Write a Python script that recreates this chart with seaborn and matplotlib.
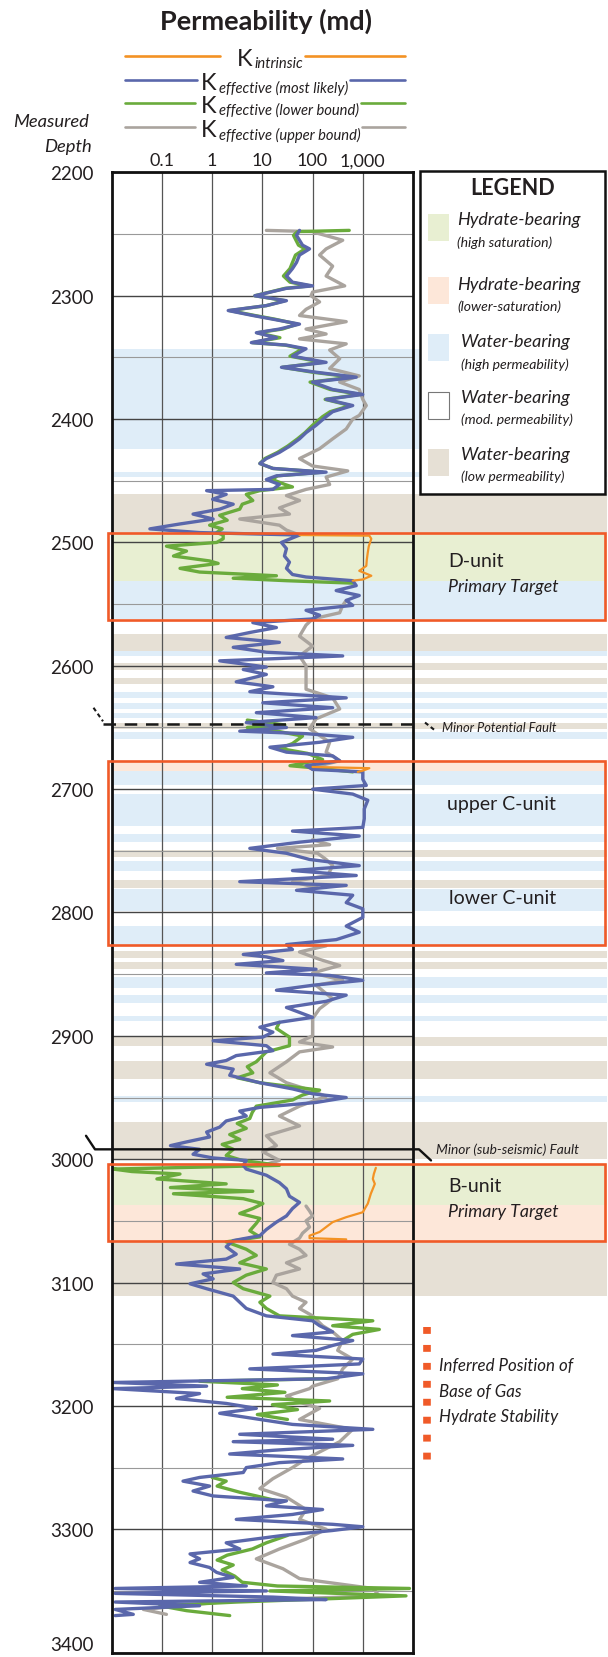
import numpy as np
import pandas as pd
import matplotlib
matplotlib.use('Agg')
import matplotlib.pyplot as plt
from matplotlib.patches import Rectangle
from matplotlib.ticker import FixedLocator, NullLocator
import seaborn as sns

# ---------------- data (depth in m, permeability as log10 md) ----------------
# K effective (most likely)
blue_depth = [2247, 2251, 2259, 2262, 2267, 2273, 2278, 2284, 2289, 2292, 2294, 2300, 2304, 2308, 2312,
              2316, 2319, 2323, 2327, 2330, 2334, 2338, 2340, 2343, 2349, 2354, 2358, 2362, 2366, 2370,
              2376, 2380, 2384, 2389, 2394, 2398, 2405, 2411, 2416, 2422, 2427, 2432, 2436, 2440, 2443,
              2446, 2449, 2453, 2457, 2458, 2461, 2465, 2469, 2473, 2477, 2481, 2485, 2489, 2492, 2494,
              2500, 2505, 2511, 2516, 2521, 2526, 2528, 2531, 2535, 2539, 2543, 2547, 2551, 2555, 2559,
              2562, 2565, 2569, 2573, 2577, 2581, 2585, 2589, 2592, 2596, 2601, 2603, 2607, 2613, 2617,
              2621, 2626, 2630, 2634, 2638, 2642, 2646, 2650, 2653, 2655, 2658, 2662, 2666, 2670, 2673,
              2677, 2681, 2684, 2686, 2692, 2697, 2700, 2704, 2709, 2716, 2724, 2731, 2734, 2738, 2743,
              2748, 2752, 2757, 2762, 2766, 2770, 2775, 2778, 2782, 2786, 2792, 2797, 2804, 2811, 2816,
              2822, 2826, 2830, 2834, 2836, 2839, 2842, 2846, 2849, 2851, 2855, 2859, 2863, 2867, 2872,
              2877, 2881, 2885, 2889, 2893, 2897, 2901, 2904, 2908, 2912, 2916, 2920, 2923, 2927, 2932,
              2938, 2943, 2947, 2950, 2954, 2958, 2961, 2965, 2969, 2974, 2978, 2982, 2986, 2989, 2992,
              2996, 2999, 3001, 3005, 3008, 3013, 3019, 3024, 3030, 3035, 3040, 3046, 3051, 3057, 3062,
              3066, 3071, 3077, 3081, 3085, 3089, 3093, 3097, 3101, 3105, 3111, 3116, 3121, 3127, 3131,
              3135, 3140, 3143, 3147, 3151, 3155, 3158, 3162, 3166, 3170, 3174, 3178, 3181, 3184, 3186,
              3190, 3194, 3198, 3202, 3206, 3211, 3215, 3219, 3223, 3227, 3229, 3232, 3236, 3239, 3243,
              3246, 3250, 3254, 3258, 3261, 3265, 3269, 3273, 3277, 3281, 3284, 3288, 3292, 3296, 3298,
              3301, 3305, 3311, 3316, 3320, 3324, 3327, 3331, 3335, 3339, 3343, 3346, 3348, 3350, 3352,
              3355, 3357, 3359, 3362, 3365, 3369, 3370]
blue_logk = [1.74, 1.68, 1.80, 1.94, 1.74, 1.68, 1.60, 1.48, 1.60, 2.00, 1.48, 0.85, 1.48, 1.08, 0.32,
             0.81, 1.21, 1.74, 1.34, 0.88, 1.28, 0.78, 1.48, 1.87, 1.60, 2.27, 1.38, 2.07, 2.87, 2.00,
             2.40, 3.00, 2.27, 2.80, 2.40, 2.27, 2.07, 1.87, 1.74, 1.54, 1.34, 1.08, 0.95, 1.21, 2.27,
             1.28, 1.08, 1.34, 1.21, -0.11, 0.28, 0.01, 0.42, 0.15, -0.38, 0.02, -0.64, -1.24, -0.25, 1.74,
             1.38, 1.48, 1.44, 1.54, 1.48, 1.60, 1.87, 2.80, 2.87, 2.47, 2.93, 2.67, 2.80, 1.87, 2.14,
             2.00, 0.81, 1.28, 0.75, 0.28, 1.34, 0.42, 1.08, 2.60, 0.15, 1.08, 0.62, 1.08, 0.48, 1.21,
             0.75, 2.67, 1.01, 2.40, 0.88, 2.07, 0.68, 1.48, 0.55, 1.87, 2.80, 2.14, 1.15, 1.48, 2.40,
             2.54, 1.87, 2.00, 3.00, 3.00, 3.07, 2.00, 2.80, 3.10, 3.03, 3.03, 3.00, 1.60, 2.93, 1.74,
             0.75, 1.48, 1.94, 2.93, 1.60, 2.87, 0.55, 2.67, 1.68, 2.80, 2.67, 3.00, 3.00, 2.67, 2.93,
             2.47, 1.48, 1.60, 0.62, 1.08, 1.41, 0.48, 2.07, 1.08, 2.34, 3.00, 2.00, 1.28, 2.67, 2.27,
             1.48, 1.74, 2.00, 1.34, 0.95, 1.21, 1.01, 0.02, 1.08, 1.21, 0.48, 0.28, -0.11, 0.42, 0.35,
             0.95, 1.60, 2.00, 2.67, 2.07, 0.95, 0.55, 0.68, 0.28, 0.15, -0.11, -0.05, -0.51, -0.83, -0.25,
             -0.38, 0.02, 0.68, 0.62, 0.68, 1.08, 1.34, 1.48, 1.54, 1.74, 1.60, 1.48, 1.28, 1.08, 0.95,
             0.42, 0.28, 0.48, 0.28, -0.71, 0.55, -0.18, 0.02, -0.44, -0.11, 0.42, 0.55, 0.68, 1.08, 2.00,
             2.14, 2.40, 1.60, 2.80, 2.40, 2.07, 1.21, 3.00, 2.93, 0.75, 3.00, 2.27, -1.97, -0.11, -1.97,
             -0.25, -0.71, 0.28, 0.88, 0.15, 0.95, 1.60, 3.20, 0.55, 2.40, 0.42, 2.80, 1.21, 0.35, 2.60,
             1.34, 0.68, 0.62, -0.25, -0.58, -0.05, -0.38, 0.02, 1.48, 1.08, 2.20, 1.60, 0.48, 2.40, 3.00,
             2.40, 1.41, 0.28, 0.55, -0.44, -0.25, -0.44, -0.05, 0.09, 0.42, -0.25, 0.68, -1.93, 1.08, -1.93,
             1.21, 2.27, -1.93, -0.25, -1.93, -1.57, -1.93]

# K effective (lower bound); None = hidden under the blue curve
green_depth = [2247, 2248, 2251, 2259, 2262, 2267, 2273, 2278, 2284, 2289, 2292, 2294, 2300, 2304, 2308,
               2312, 2316, 2319, 2323, 2327, 2330, 2334, 2338, 2340, 2343, 2349, 2354, 2358, 2362, 2366,
               2370, 2376, 2380, 2384, 2389, 2394, 2398, 2405, 2411, 2416, 2422, 2427, 2432, 2436, 2440,
               2443, 2446, 2449, 2453, 2455, 2458, 2461, 2466, 2469, 2473, 2478, 2482, 2486, 2489, 2492,
               2494, 2497, 2500, 2503, 2507, 2511, 2515, 2517, 2521, 2524, 2527, 2529, 2531, 2533, None,
               2644, 2648, 2650, 2653, 2657, 2663, 2667, 2671, 2676, 2681, 2683, 2686, None,
               2889, 2894, 2901, 2908, 2913, 2921, 2925, 2930, 2934, 2938, 2944, 2948, 2952, 2957, 2962,
               2967, 2971, 2975, 2980, 2984, 2988, 2992, 2997, 3001, 3005, 3008, 3010, 3012, 3016, 3020,
               3023, 3026, 3028, 3032, 3036, 3040, 3044, 3048, 3052, 3058, 3063, 3067, 3073, 3078, 3084,
               3089, 3094, 3100, 3105, 3111, 3116, 3121, 3127, 3131, 3135, 3138, 3142, 3147, None,
               3178, 3180, 3183, 3186, 3189, 3193, 3196, 3199, 3203, 3207, 3211, None,
               3258, 3261, 3265, 3270, 3273, 3277, None,
               3305, 3311, 3316, 3321, 3325, 3329, 3333, 3338, 3343, 3346, 3348, 3350, 3354, 3356, 3359,
               3362, 3366, 3370]
green_logk = [2.73, 1.70, 1.62, 1.72, 1.85, 1.66, 1.60, 1.55, 1.42, 1.55, 1.95, 1.45, 0.85, 1.45, 1.08,
              0.35, 0.85, 1.25, 1.70, 1.40, 0.90, 1.35, 0.80, 1.45, 1.80, 1.55, 2.20, 1.40, 2.00, 2.80,
              1.95, 2.35, 2.95, 2.25, 2.75, 2.35, 2.20, 2.00, 1.85, 1.70, 1.50, 1.30, 1.05, 0.95, 1.21,
              2.20, 1.30, 1.20, 1.45, 1.60, 0.95, 0.68, 0.81, 0.60, 0.55, 0.15, 0.30, -0.05, 0.20, 0.09,
              0.22, 0.22, 0.09, -0.91, -0.51, -0.77, -0.05, 0.12, -0.64, -0.25, 1.28, 0.42, 1.48, 2.80, None,
              0.70, 1.45, 0.70, 1.30, 1.80, 1.60, 1.35, 1.90, 2.20, 1.55, 2.10, 2.80, None,
              1.34, 1.28, 1.54, 1.54, 1.08, 0.88, 0.70, 0.81, 0.50, 0.95, 2.14, 1.80, 1.60, 0.88, 0.80,
              0.75, 0.50, 0.68, 0.35, 0.55, 0.20, 0.42, 0.28, 0.60, 1.34, -1.97, -1.60, -0.64, -1.10, 0.28,
              -0.83, 0.81, -0.77, 0.62, 1.01, 0.81, 0.55, 0.95, 0.88, 0.75, 0.95, 0.28, 0.68, 0.88, 0.55,
              1.08, 0.68, 0.42, 0.62, 1.15, 0.95, 1.08, 1.34, 3.20, 2.40, 3.33, 2.80, 2.60, None,
              2.27, -0.25, 1.30, 0.60, 1.45, 0.30, 2.34, 1.20, 1.70, 0.90, 1.50, None,
              0.00, 0.28, 0.10, 0.55, 0.88, 1.30, None,
              1.50, 1.08, 0.80, 0.30, 0.10, 0.42, 0.20, 0.45, 0.60, 1.30, 3.93, 1.15, 3.86, 2.54, 0.50,
              -1.04, -0.51, 0.35]

# K effective (upper bound)
gray_depth = [2247, 2248, 2249, 2255, 2262, 2267, 2276, 2284, 2292, 2297, 2300, 2305, 2311, 2316, 2321,
              2327, 2331, 2335, 2339, 2344, 2351, 2359, 2365, 2370, 2376, 2384, 2389, 2397, 2400, 2408,
              2416, 2424, 2432, 2438, 2442, 2447, 2453, 2457, 2462, 2466, 2472, 2477, 2481, 2486, 2490,
              2494, None,
              2547, 2551, 2557, 2562, 2567, 2576, 2584, 2592, 2600, 2611, 2619, 2626, 2635, 2643, 2651,
              2662, 2670, 2677, 2681, 2684, None,
              2741, 2745, 2748, 2752, 2757, 2762, 2770, 2775, 2780, None,
              2826, 2827, 2832, 2838, 2843, 2849, 2855, 2859, 2870, 2878, 2886, 2894, 2900, 2905, 2909,
              2913, 2921, 2930, 2938, 2943, 2949, 2957, 2965, 2973, 2981, 2989, 2994, 3001, 3005, None,
              3038, 3042, 3046, 3050, 3055, 3060, 3064, 3069, 3073, 3078, 3084, 3089, 3094, 3100, 3105,
              3111, 3116, 3121, 3127, 3131, 3135, 3140, 3147, 3155, 3162, 3170, 3178, 3184, 3186, 3192,
              3197, 3202, 3211, 3219, 3229, 3243, 3250, 3259, 3267, 3274, 3284, 3292, 3300, 3308, 3316,
              3324, 3332, 3340, 3348, 3354, 3358, 3365, 3369]
gray_logk = [1.08, 2.00, 2.07, 2.60, 2.27, 2.14, 2.40, 2.27, 2.64, 2.00, 1.97, 2.14, 1.87, 1.74, 2.67,
             1.87, 2.27, 1.74, 2.67, 2.34, 2.54, 2.34, 2.93, 2.54, 2.93, 3.00, 3.07, 2.93, 2.80, 2.67,
             2.40, 2.14, 1.74, 2.00, 2.70, 2.27, 2.34, 1.87, 1.48, 1.74, 1.34, 1.54, 0.55, 1.34, 1.48,
             1.74, None,
             2.67, 2.60, 2.54, 2.00, 1.87, 1.74, 2.00, 1.74, 1.87, 1.87, 1.87, 2.40, 2.54, 2.07, 1.94,
             2.34, 2.27, 2.54, 2.14, 2.00, None,
             2.00, 2.34, 1.30, 2.10, 2.27, 2.40, 2.30, 1.60, 2.10, None,
             1.90, 2.27, 1.74, 2.14, 2.54, 2.00, 2.60, 2.07, 2.40, 2.14, 2.00, 2.00, 2.00, 1.74, 2.40,
             1.74, 1.48, 1.15, 1.48, 1.87, 2.27, 1.74, 1.34, 1.74, 1.08, 1.28, 1.01, 1.34, 1.00, None,
             1.87, 1.94, 2.00, 1.87, 1.94, 1.80, 1.74, 1.54, 1.74, 1.87, 1.48, 1.74, 1.28, 1.21, 1.48,
             1.60, 1.87, 1.74, 2.00, 2.10, 2.20, 2.40, 2.60, 2.50, 2.80, 2.60, 2.50, 2.00, 1.94, 1.48,
             1.74, 2.14, 1.74, 2.80, 2.54, 1.87, 1.60, 1.21, 0.95, 1.48, 1.87, 1.74, 2.27, 1.87, 1.34,
             0.88, 1.41, 1.74, 3.20, 3.33, 0.42, -1.37, -0.91]

# K intrinsic (only inside hydrate-bearing intervals)
orange_depth = [2494, 2494.5, 2497, 2503, 2508, 2514, 2519, 2523, 2527, 2530, 2531, None,
                2682, 2683, 2685, 2686, None,
                3007, 3012, 3016, 3020, 3024, 3028, 3032, 3036, 3038, 3043, 3047, 3051, 3055, 3059,
                3062, 3064, 3065]
orange_logk = [1.74, 3.13, 3.17, 3.12, 3.10, 3.08, 3.07, 2.93, 3.17, 3.00, 2.80, None,
               2.00, 3.13, 3.00, 2.90, None,
               3.26, 3.22, 3.20, 3.24, 3.20, 3.16, 3.13, 3.10, 3.07, 3.00, 2.67, 2.40, 2.27, 2.14,
               1.94, 1.94, 2.67]

# lithology / fluid bands (top, bottom, kind)
band_top = [2343, 2443, 2461, 2492, 2531, 2574, 2588, 2598, 2610, 2621, 2630, 2638, 2646, 2654, 2678,
            2685, 2704, 2736, 2749, 2758, 2774, 2781, 2811, 2831, 2840, 2852, 2867, 2884, 2901, 2920,
            2949, 2970, 3004, 3037, 3066]
band_bottom = [2424, 2447, 2492, 2531, 2562, 2588, 2592, 2603, 2615, 2626, 2635, 2642, 2651, 2659, 2685,
               2697, 2730, 2743, 2755, 2766, 2780, 2799, 2826, 2837, 2846, 2861, 2873, 2888, 2908, 2935,
               2954, 3000, 3037, 3066, 3111]
band_kind = ['wh', 'wh', 'wl', 'hh', 'wh', 'wl', 'wh', 'wl', 'wl', 'wh', 'wh', 'wh', 'wl', 'wh', 'hl',
             'wh', 'wh', 'wh', 'wl', 'wh', 'wl', 'wh', 'wh', 'wl', 'wl', 'wh', 'wh', 'wh', 'wl', 'wl',
             'wh', 'wl', 'hh', 'hl', 'wl']

# target intervals (orange boxes)
box_top = [2492, 2677, 3004]
box_bottom = [2563, 2826, 3066]

depth_ticks = [2200, 2300, 2400, 2500, 2600, 2700, 2800, 2900, 3000, 3100, 3200, 3300, 3400]
perm_ticks = [0.1, 1, 10, 100, 1000]
perm_labels = ['0.1', '1', '10', '100', '1,000']

# ---------------- style ----------------
sns.set_theme(style='white')
plt.rcParams['font.family'] = ['Lato', 'DejaVu Sans']
TXT = '#231f20'
c_orange = '#f39224'
c_blue = '#5a67ab'
c_green = '#6aab3c'
c_gray = '#aaa49e'
c_box = '#f05a28'
band_colors = {'hh': '#e8efd2', 'hl': '#fde7d9', 'wh': '#dfedf8', 'wl': '#e6e0d5'}

W, H = 608, 1658
fig = plt.figure(figsize=(W / 100, H / 100), dpi=100)
ax_l, ax_r, ax_t, ax_b = 111.7, 413.0, 173.4, 1653.6
ax = fig.add_axes([ax_l / W, 1 - ax_b / H, (ax_r - ax_l) / W, (ax_b - ax_t) / H])
ax.set_facecolor('none')


def fx(px):
    # pixel x -> axes fraction
    return (px - ax_l) / (ax_r - ax_l)


ax.set_xscale('log')
ax.set_xlim(0.01, 10000)
ax.set_ylim(3400, 2200)

# bands (extend across to the right of the track)
for top, bot, kind in zip(band_top, band_bottom, band_kind):
    ax.axhspan(top, bot, xmin=0, xmax=1.645, color=band_colors[kind], lw=0, zorder=0.3, clip_on=False)


def draw_curve(depth, logk, color, lw, z):
    df = pd.DataFrame({'depth': depth, 'logk': logk}, dtype=float)
    df['seg'] = df['depth'].isna().cumsum()
    df = df.dropna()
    df['k'] = 10 ** df['logk']
    sns.lineplot(data=df, x='k', y='depth', units='seg', estimator=None, orient='y', sort=True,
                 color=color, lw=lw, ax=ax, zorder=z, legend=False)


draw_curve(gray_depth, gray_logk, c_gray, 2.4, 2.0)
draw_curve(green_depth, green_logk, c_green, 2.4, 2.1)
draw_curve(blue_depth, blue_logk, c_blue, 2.4, 2.2)
draw_curve(orange_depth, orange_logk, c_orange, 1.6, 2.3)

# axes, ticks, grid
ax.xaxis.tick_top()
ax.set_xticks(perm_ticks)
ax.set_xticklabels(perm_labels)
ax.xaxis.set_minor_locator(NullLocator())
ax.set_yticks(depth_ticks)
ax.yaxis.set_minor_locator(FixedLocator(np.arange(2250, 3400, 100)))
ax.tick_params(axis='x', which='both', length=0, pad=3, labelsize=13, labelcolor=TXT)
ax.tick_params(axis='y', which='both', length=0, pad=13, labelsize=13.5, labelcolor=TXT)
ax.yaxis.get_major_ticks()[-1].label1.set_va('bottom')
ax.grid(which='major', axis='x', color='#555555', lw=0.9)
ax.grid(which='major', axis='y', color='#444444', lw=1.0)
ax.grid(which='minor', axis='y', color='#999999', lw=0.8)
ax.set_xlabel('')
ax.set_ylabel('')
for s in ax.spines.values():
    s.set_color('#111111')
    s.set_linewidth(2.0)
    s.set_zorder(4)

ytr = ax.get_yaxis_transform()

# target boxes
for top, bot in zip(box_top, box_bottom):
    ax.add_patch(Rectangle((-0.012, top), 1.649, bot - top, transform=ytr, fill=False,
                           ec=c_box, lw=1.9, clip_on=False, zorder=5))

# faults
ax.plot([fx(103), 1.0], [2647, 2647], transform=ytr, color='#1a1a1a', lw=1.8,
        ls=(0, (5, 3.5)), clip_on=False, zorder=5)
ax.plot([fx(93.5), fx(103)], [2634, 2645], transform=ytr, color='#1a1a1a', lw=1.5,
        ls=(0, (2, 1.5)), clip_on=False, zorder=5)
ax.plot([fx(425), fx(436)], [2646, 2653], transform=ytr, color='#1a1a1a', lw=1.5,
        ls=(0, (2, 1.5)), clip_on=False, zorder=5)
ax.plot([fx(86), fx(95), fx(419), fx(431)], [2981, 2992, 2992, 3001], transform=ytr,
        color='#111111', lw=1.7, clip_on=False, zorder=5)
ax.text(fx(442), 2649.5, 'Minor Potential Fault', transform=ytr, style='italic', fontsize=9.3,
        color=TXT, va='center', ha='left')
ax.text(fx(436.5), 2991.7, 'Minor (sub-seismic) Fault', transform=ytr, style='italic', fontsize=9.9,
        color=TXT, va='center', ha='left')

# unit labels
ax.text(fx(448), 2514.8, 'D-unit', transform=ytr, fontsize=14, color=TXT, va='center')
ax.text(fx(448), 2535, 'Primary Target', transform=ytr, fontsize=12.8, style='italic', color=TXT, va='center')
ax.text(fx(447), 2712, 'upper C-unit', transform=ytr, fontsize=14, color=TXT, va='center')
ax.text(fx(449), 2788, 'lower C-unit', transform=ytr, fontsize=14, color=TXT, va='center')
ax.text(fx(448), 3021, 'B-unit', transform=ytr, fontsize=14, color=TXT, va='center')
ax.text(fx(448), 3041.7, 'Primary Target', transform=ytr, fontsize=12.8, style='italic', color=TXT, va='center')

# base of gas hydrate stability
ax.plot([fx(427), fx(427)], [3136, 3249], transform=ytr, color=c_box, lw=5.5,
        ls=(0, (0.9, 1.45)), dash_capstyle='butt', clip_on=False, zorder=5)
for d, t in zip([3167, 3188, 3208], ['Inferred Position of', 'Base of Gas', 'Hydrate Stability']):
    ax.text(fx(439), d, t, transform=ytr, style='italic', fontsize=12.2, color=TXT, va='center')

# ---------------- overlay in pixel coordinates ----------------
ov = fig.add_axes([0, 0, 1, 1], zorder=10)
ov.set_xlim(0, W)
ov.set_ylim(H, 0)
ov.axis('off')
ov.patch.set_alpha(0)

ov.text(266, 21, 'Permeability (md)', fontsize=19.5, fontweight='bold', color=TXT, ha='center', va='center')
ov.text(89, 122, 'Measured', fontsize=13.2, style='italic', color=TXT, ha='right', va='center')
ov.text(91.5, 147, 'Depth', fontsize=13.2, style='italic', color=TXT, ha='right', va='center')

# curve key
renderer = fig.canvas.get_renderer()
inv = ov.transData.inverted()
key_subs = ['intrinsic', 'effective (most likely)', 'effective (lower bound)', 'effective (upper bound)']
key_cols = [c_orange, c_blue, c_green, c_gray]
key_y = [57, 81, 104, 128]
key_kx = [237, 201, 201, 201]
key_l1 = [220, 197, 195, 195]
for sub, col, ry, kx, l1 in zip(key_subs, key_cols, key_y, key_kx, key_l1):
    ov.plot([125, l1], [ry, ry], color=col, lw=1.9)
    tk = ov.text(kx, ry + 2, 'K', fontsize=17, color=TXT, ha='left', va='center')
    x1 = inv.transform((tk.get_window_extent(renderer).x1, 0))[0]
    ts = ov.text(x1 + 2, ry + 7, sub, fontsize=10.6, style='italic', color=TXT, ha='left', va='center')
    x2 = inv.transform((ts.get_window_extent(renderer).x1, 0))[0]
    ov.plot([x2 + 2, 405], [ry, ry], color=col, lw=1.9)

# legend box
ov.add_patch(Rectangle((420, 172), 185, 323, fc='white', ec='#111111', lw=1.8))
ov.text(513, 188, 'LEGEND', fontsize=15.5, fontweight='bold', color=TXT, ha='center', va='center')
leg_kind = ['hh', 'hl', 'wh', None, 'wl']
leg_main = ['Hydrate-bearing', 'Hydrate-bearing', 'Water-bearing', 'Water-bearing', 'Water-bearing']
leg_sub = ['(high saturation)', '(lower-saturation)', '(high permeability)', '(mod. permeability)',
           '(low permeability)']
leg_top = [215, 278, 335, 393, 450]
leg_ym = [220, 285, 342, 398, 455]
leg_ys = [243, 307, 365, 420, 477]
leg_tx = [457, 457, 461, 461, 461]
for kind, m, s, top, ym, ys, tx in zip(leg_kind, leg_main, leg_sub, leg_top, leg_ym, leg_ys, leg_tx):
    if kind is None:
        ov.add_patch(Rectangle((428, top), 21, 27, fc='white', ec='#777777', lw=0.8))
    else:
        ov.add_patch(Rectangle((428, top), 21, 27, fc=band_colors[kind], ec='none'))
    ov.text(tx, ym, m, fontsize=13, style='italic', color=TXT, ha='left', va='center')
    ov.text(tx, ys, s, fontsize=10.1, style='italic', color=TXT, ha='left', va='center')

fig.savefig('out.png', dpi=100)
